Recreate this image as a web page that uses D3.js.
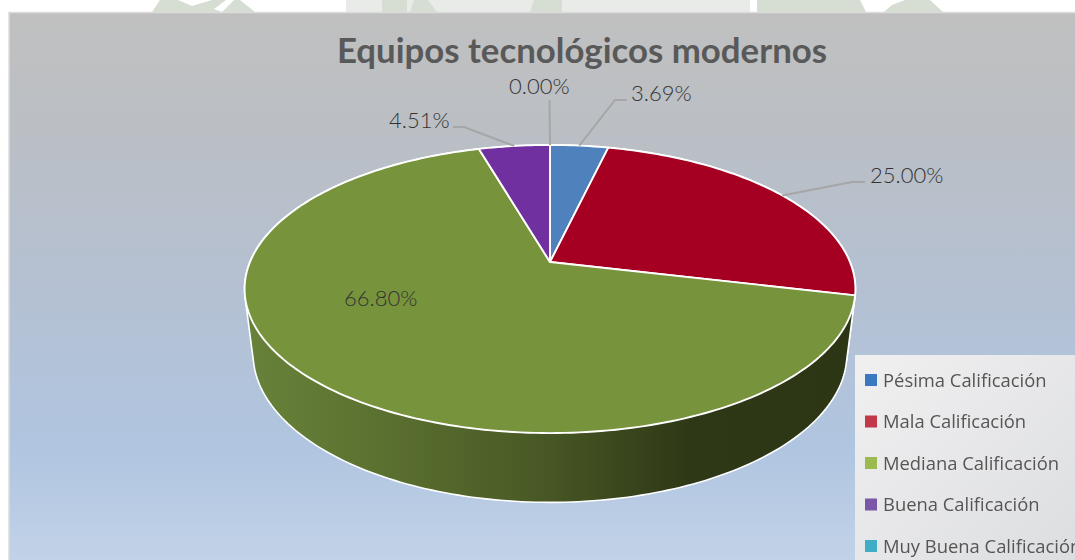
<!DOCTYPE html>
<html>
<head>
<meta charset="utf-8">
<script src="https://cdn.jsdelivr.net/npm/d3@7"></script>
<style>
html, body { margin: 0; padding: 0; background: #fff; overflow: hidden; }
svg { display: block; }
</style>
</head>
<body>
<div id="chart"></div>
<script>
var categories = ["Pésima Calificación", "Mala Calificación", "Mediana Calificación", "Buena Calificación", "Muy Buena Calificación"];
var shares = [3.69, 25.00, 66.80, 4.51, 0.00];
var title = "Equipos tecnológicos modernos";

var topColors = ["#4f81bd", "#a50021", "#77933c", "#7030a0", "#4bacc6"];
var legendColors = ["#3b78c2", "#c2394a", "#9bbb4f", "#7a55a8", "#3fadc6"];

var width = 1075, height = 560;

var svg = d3.select("#chart").append("svg")
    .attr("width", width)
    .attr("height", height);

var defs = svg.append("defs");

var bg = defs.append("linearGradient").attr("id", "bg")
    .attr("x1", 0).attr("y1", 0).attr("x2", 0).attr("y2", 1);
[[0, "#c0c0c0"], [0.2, "#bbbfc4"], [0.45, "#b5c0d0"], [0.78, "#b0c5e0"], [1, "#c4d4e9"]].forEach(function(s) {
    bg.append("stop").attr("offset", s[0]).attr("stop-color", s[1]);
});

var wall = defs.append("linearGradient").attr("id", "wall")
    .attr("gradientUnits", "userSpaceOnUse")
    .attr("x1", 246).attr("y1", 0).attr("x2", 855).attr("y2", 0);
[[0, "#67823a"], [0.17, "#5e7532"], [0.47, "#4a5a26"], [0.73, "#2e3816"], [1, "#2c3615"]].forEach(function(s) {
    wall.append("stop").attr("offset", s[0]).attr("stop-color", s[1]);
});

var leg = defs.append("linearGradient").attr("id", "leg")
    .attr("x1", 0).attr("y1", 0).attr("x2", 1).attr("y2", 1);
leg.append("stop").attr("offset", 0).attr("stop-color", "#f0f0f1");
leg.append("stop").attr("offset", 1).attr("stop-color", "#dcdddf");

defs.append("filter").attr("id", "soft")
    .append("feGaussianBlur").attr("stdDeviation", 0.7);

// faint watermark of the page behind the chart
var mark = svg.append("g").attr("fill", "#d6ddd2");
mark.append("path").attr("d", "M152,12 L160,0 L178,0 L192,6 L212,0 L226,0 L214,9 L222,12 L234,0 L240,0 L255,12 Z");
mark.append("rect").attr("x", 346).attr("y", 0).attr("width", 404).attr("height", 12).attr("fill", "#e8ebe8");
mark.append("path").attr("d", "M382,12 L382,0 L407,0 L407,12 Z M410,12 L414,0 L428,0 L437,12 Z M530,12 L534,0 L562,0 L562,12 Z");
mark.append("path").attr("d", "M757,12 L757,0 L860,0 L866,12 Z M884,12 L892,5 L905,0 L930,0 L943,12 Z");

// chart area
svg.append("rect")
    .attr("x", 9).attr("y", 12.5)
    .attr("width", width).attr("height", height)
    .attr("fill", "url(#bg)")
    .attr("stroke", "#dcdcdc")
    .attr("stroke-width", 1.5);

svg.append("text")
    .attr("x", 582).attr("y", 63)
    .attr("text-anchor", "middle")
    .style("font", "bold 34.8px Lato, sans-serif")
    .style("fill", "#595959")
    .text(title);

// Pie laid flat: the unit circle seen through a perspective
var apex = [550, 262];
function topRim(a) {
    var u = Math.sin(a), v = Math.cos(a), w = 1 + 0.1875 * v;
    return [apex[0] + 300 * u / w, apex[1] - 139 * v / w];
}
function lowRim(a) {
    var p = topRim(a);
    return [550 + 0.972 * (p[0] - 550), p[1] * 1.03 + 56.3];
}
function arcAngles(d) {
    var n = Math.max(2, Math.ceil((d.endAngle - d.startAngle) / 0.02));
    return d3.range(n + 1).map(function(i) {
        return d.startAngle + (d.endAngle - d.startAngle) * i / n;
    });
}

var pie = d3.pie().sort(null).value(function(d) { return d; });
var slices = pie(shares);
slices.forEach(function(d, i) { d.color = topColors[i]; d.mid = (d.startAngle + d.endAngle) / 2; });

var line = d3.line();
var visible = slices.filter(function(d) { return d.value > 0; });

// side walls, back to front
svg.append("g").selectAll("path")
    .data(visible.slice().sort(function(a, b) { return Math.cos(b.mid) - Math.cos(a.mid); }))
    .enter().append("path")
    .attr("d", function(d) {
        var angles = arcAngles(d);
        return line(d3.polygonHull(angles.map(topRim).concat(angles.map(lowRim)))) + "Z";
    })
    .attr("fill", "url(#wall)")
    .attr("stroke", "#fff")
    .attr("stroke-width", 1.6)
    .attr("stroke-linejoin", "round");

// top faces
svg.append("g").selectAll("path")
    .data(visible)
    .enter().append("path")
    .attr("d", function(d) {
        return line([apex].concat(arcAngles(d).map(topRim))) + "Z";
    })
    .attr("fill", function(d) { return d.color; })
    .attr("stroke", "#fff")
    .attr("stroke-width", 1.9)
    .attr("stroke-linejoin", "round");

// data labels; index follows shares, a label without from has no leader line
var labelLayout = [
    { i: 0, x: 631, y: 101, from: [627, 100], elbow: [615, 100] },
    { i: 1, x: 870, y: 183, from: [865, 182], elbow: [852, 182] },
    { i: 2, x: 344, y: 306 },
    { i: 3, x: 389, y: 128, from: [453, 127], elbow: [464, 127] },
    { i: 4, x: 509, y: 94, from: [549.5, 100], elbow: [549.5, 100] }
];

svg.append("g").selectAll("path")
    .data(labelLayout.filter(function(l) { return l.from; }))
    .enter().append("path")
    .attr("d", function(l) {
        return line([l.from, l.elbow, topRim(slices[l.i].mid)]);
    })
    .attr("fill", "none")
    .attr("stroke", "#a6a6a6")
    .attr("stroke-width", 2);

svg.append("g").selectAll("text")
    .data(labelLayout)
    .enter().append("text")
    .attr("x", function(l) { return l.x; })
    .attr("y", function(l) { return l.y; })
    .style("font", "300 22px Lato, sans-serif")
    .style("fill", "#333")
    .text(function(l) { return shares[l.i].toFixed(2) + "%"; });

// legend box, runs off the right and bottom of the picture
svg.append("rect")
    .attr("x", 855).attr("y", 355)
    .attr("width", 230).attr("height", 215)
    .attr("fill", "url(#leg)");

var legendY = d3.scalePoint().domain(categories).range([380, 546]);

var legend = svg.append("g").attr("filter", "url(#soft)")
    .selectAll("g")
    .data(categories)
    .enter().append("g")
    .attr("transform", function(d) { return "translate(865," + legendY(d) + ")"; });

legend.append("rect")
    .attr("y", -6)
    .attr("width", 12).attr("height", 12)
    .attr("fill", function(d, i) { return legendColors[i]; });

legend.append("text")
    .attr("x", 18).attr("y", 6.5)
    .style("font", "18.4px 'Open Sans', sans-serif")
    .style("fill", "#555")
    .text(function(d) { return d; });
</script>
</body>
</html>
